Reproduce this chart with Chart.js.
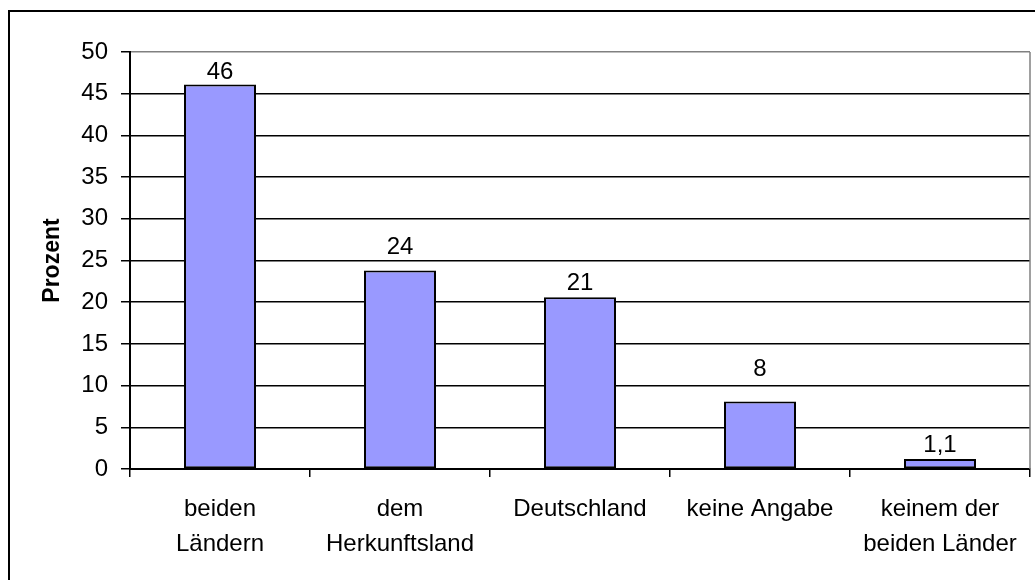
<!DOCTYPE html>
<html>
<head>
<meta charset="utf-8">
<script src="https://cdn.jsdelivr.net/npm/chart.js@4.4.1/dist/chart.umd.min.js"></script>
<style>
  html, body { margin: 0; padding: 0; background: #fff; overflow: hidden; }
  #wrap { position: relative; width: 1035px; height: 580px; }
</style>
</head>
<body>
<div id="wrap"><canvas id="chart" width="1035" height="580"></canvas></div>
<script>
(function () {
  "use strict";

  var categories = [
    ["beiden", "Ländern"],
    ["dem", "Herkunftsland"],
    ["Deutschland"],
    ["keine Angabe"],
    ["keinem der", "beiden Länder"]
  ];
  var values = [46.1, 23.8, 20.6, 8.1, 1.2];
  var valueLabels = ["46", "24", "21", "8", "1,1"];
  var yTitle = "Prozent";

  var FONT = "Arial, 'Liberation Sans', sans-serif";
  Chart.defaults.font.family = FONT;
  Chart.defaults.color = "#000";

  // labels sit at slightly different heights above the bars in the original
  var labelGap = [6, 17, 7, 25, 7];

  var frame = {
    id: "frame",
    beforeDraw: function (chart) {
      var ctx = chart.ctx;
      ctx.save();
      ctx.fillStyle = "#fff";
      ctx.fillRect(0, 0, chart.width, chart.height);
      ctx.strokeStyle = "#000";
      ctx.lineWidth = 2;
      ctx.strokeRect(9, 11, chart.width + 20, chart.height + 20);
      ctx.restore();
    },
    afterDraw: function (chart) {
      var a = chart.chartArea, ctx = chart.ctx;
      ctx.save();
      ctx.strokeStyle = "#808080";
      ctx.lineWidth = 1.5;
      ctx.beginPath();
      ctx.moveTo(a.right, a.top);
      ctx.lineTo(a.right, a.bottom);
      ctx.stroke();
      ctx.restore();
    }
  };

  var barLabels = {
    id: "barLabels",
    afterDatasetsDraw: function (chart) {
      var ctx = chart.ctx;
      var meta = chart.getDatasetMeta(0);
      ctx.save();
      ctx.font = "24px " + FONT;
      ctx.fillStyle = "#000";
      ctx.textAlign = "center";
      ctx.textBaseline = "alphabetic";
      meta.data.forEach(function (bar, i) {
        ctx.fillText(valueLabels[i], bar.x, bar.y - labelGap[i]);
      });
      ctx.restore();
    }
  };

  new Chart(document.getElementById("chart").getContext("2d"), {
    type: "bar",
    data: {
      labels: categories,
      datasets: [{
        data: values,
        backgroundColor: "#9999FF",
        borderColor: "#000",
        borderWidth: 2,
        borderSkipped: false,
        barPercentage: 0.4,
        categoryPercentage: 1
      }]
    },
    options: {
      responsive: false,
      animation: false,
      layout: { padding: { top: 52, right: 5, left: 0, bottom: 0 } },
      plugins: { legend: { display: false }, tooltip: { enabled: false } },
      scales: {
        x: {
          grid: { drawOnChartArea: false, offset: true, tickLength: 8, color: "#000", lineWidth: 1.5 },
          border: { color: "#000", width: 2 },
          ticks: { font: { size: 24, lineHeight: 1.45 }, padding: 15, maxRotation: 0, autoSkip: false },
          afterFit: function (s) { s.height = 111; }
        },
        y: {
          min: 0,
          max: 50,
          ticks: { stepSize: 5, font: { size: 24 }, padding: 13 },
          grid: {
            color: function (c) { return c.tick && c.tick.value === 50 ? "#808080" : "#000"; },
            tickColor: "#000",
            tickLength: 9,
            lineWidth: 1.5
          },
          border: { color: "#000", width: 2 },
          title: {
            display: true,
            text: yTitle,
            font: { size: 23, weight: "bold" },
            padding: { top: 39 }
          },
          afterFit: function (s) { s.width = 130; }
        }
      }
    },
    plugins: [frame, barLabels]
  });
})();
</script>
</body>
</html>
